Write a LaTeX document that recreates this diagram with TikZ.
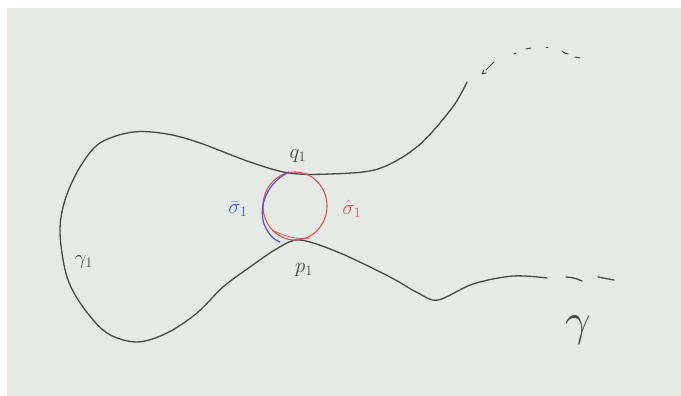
\documentclass[tikz,border=0pt]{standalone}
\usetikzlibrary{arrows.meta}
\definecolor{bgc}{RGB}{229,234,229}
\definecolor{ink}{RGB}{72,72,72}
\definecolor{redink}{RGB}{214,84,90}
\definecolor{blueink}{RGB}{80,84,196}
\tikzset{
  pen/.style={draw=ink, line width=1.3pt, line cap=round, line join=round},
  lab/.style={text=ink, inner sep=0pt, font=\fontsize{21}{21}\selectfont},
}
\begin{document}
\begin{tikzpicture}[x=1pt,y=-1pt]
\useasboundingbox (0,0) rectangle (681,396);
\fill[white] (0,0) rectangle (681,396);
\fill[bgc] (7,8) rectangle (681,396);
% main curve gamma
\draw[pen] plot[smooth, tension=0.55] coordinates {
 (467,82) (452,108) (418,146) (378,169) (330,174) (289,173) (250,162)
 (200,143) (167,134) (133,132) (100,143) (80,167) (65,200) (60,233)
 (67,277) (83,307) (107,333) (137,342) (167,333) (197,313) (223,287)
 (250,267) (278,248) (300,240) (340,253) (390,277) (418,293) (438,300)
 (473,284) (513,276) (547,278)};
% lower right dashes
\draw[pen] (566,277) to[bend left=10] (582,281);
\draw[pen] (598,277) -- (614,280);
% upper right dashed continuation
\draw[pen, line width=1pt] (494,62) -- (486,70);
\draw[pen, line width=1pt] (482,74) -- (484,70) (482,74) -- (486,73);
\draw[pen, line width=1pt] (514,54) -- (516,53);
\draw[pen, line width=1pt] (526,49) -- (531,48);
\draw[pen, line width=1pt] (546,48) -- (548,48);
\draw[pen, line width=1pt] (562,51) to[bend right=20] (568,54);
\draw[pen, line width=1pt] (575,57) -- (580,58);
% circles
\draw[redink, line width=1.1pt] (295,206) ellipse [x radius=32, y radius=34];
\draw[redink, line width=0.8pt] (272,230) .. controls (285,236) and (295,240) .. (310,238);
\draw[blueink, line width=1.2pt] (289,172) .. controls (268,182) and (258,205) .. (264,224)
  .. controls (268,234) and (274,240) .. (280,242);
% labels
\node[lab] (q1) at (298,156) {$q_1$};
\node[lab] (p1) at (304,270) {$p_1$};
\node[lab, text=blueink] (sb) at (238,209) {$\bar\sigma_1$};
\node[lab, text=redink] (sh) at (352,209) {$\hat\sigma_1$};
\node[lab] (g1) at (84,262) {$\gamma_1$};
\node[lab, scale=2.2] (g) at (578,330) {$\gamma$};
\end{tikzpicture}
\end{document}
